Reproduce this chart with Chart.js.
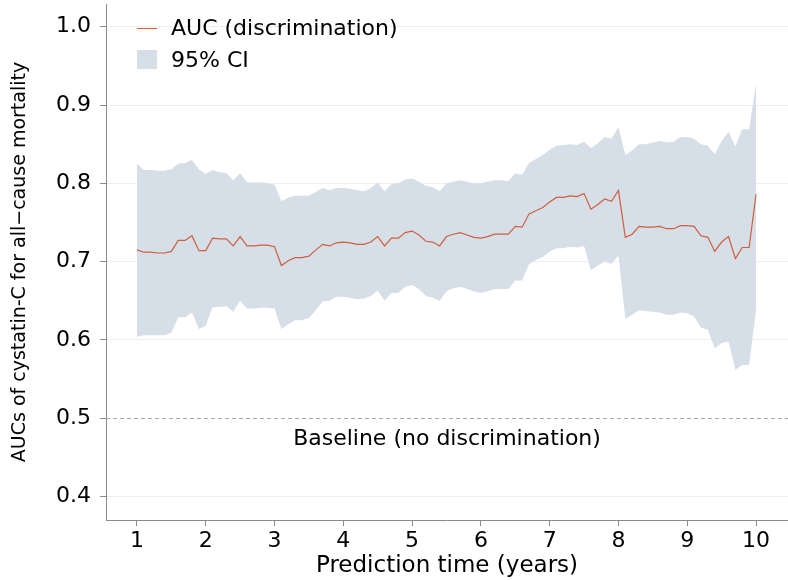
<!DOCTYPE html>
<html>
<head>
<meta charset="utf-8">
<script src="https://cdn.jsdelivr.net/npm/chart.js@4.4.1/dist/chart.umd.min.js"></script>
<style>
  html, body { margin: 0; padding: 0; background: #fff; }
</style>
</head>
<body>
<canvas id="chart" width="788" height="580"></canvas>
<script>
// Prediction time grid (years)
const years = [
  1.0, 1.1, 1.2, 1.3, 1.4, 1.5, 1.6, 1.7, 1.8, 1.9,
  2.0, 2.1, 2.2, 2.3, 2.4, 2.5, 2.6, 2.7, 2.8, 2.9,
  3.0, 3.1, 3.2, 3.3, 3.4, 3.5, 3.6, 3.7, 3.8, 3.9,
  4.0, 4.1, 4.2, 4.3, 4.4, 4.5, 4.6, 4.7, 4.8, 4.9,
  5.0, 5.1, 5.2, 5.3, 5.4, 5.5, 5.6, 5.7, 5.8, 5.9,
  6.0, 6.1, 6.2, 6.3, 6.4, 6.5, 6.6, 6.7, 6.8, 6.9,
  7.0, 7.1, 7.2, 7.3, 7.4, 7.5, 7.6, 7.7, 7.8, 7.9,
  8.0, 8.1, 8.2, 8.3, 8.4, 8.5, 8.6, 8.7, 8.8, 8.9,
  9.0, 9.1, 9.2, 9.3, 9.4, 9.5, 9.6, 9.7, 9.8, 9.9,
  10.0
];

// AUC (discrimination)
const auc = [
  0.715, 0.712, 0.712, 0.711, 0.711, 0.713, 0.727, 0.727, 0.733, 0.714,
  0.714, 0.730, 0.729, 0.729, 0.720, 0.732, 0.720, 0.720, 0.721, 0.721,
  0.719, 0.695, 0.701, 0.705, 0.705, 0.707, 0.715, 0.722, 0.720, 0.724,
  0.725, 0.724, 0.722, 0.722, 0.725, 0.732, 0.720, 0.730, 0.730, 0.737,
  0.739, 0.734, 0.726, 0.725, 0.720, 0.732, 0.735, 0.737, 0.734, 0.731,
  0.730, 0.732, 0.735, 0.735, 0.735, 0.745, 0.744, 0.761, 0.765, 0.769,
  0.776, 0.782, 0.782, 0.784, 0.783, 0.787, 0.767, 0.773, 0.780, 0.777,
  0.791, 0.731, 0.735, 0.745, 0.744, 0.744, 0.745, 0.742, 0.742, 0.746,
  0.746, 0.745, 0.733, 0.731, 0.713, 0.725, 0.732, 0.704, 0.718, 0.718,
  0.786
];

// 95% CI bounds
const ciUpper = [
  0.825, 0.817, 0.817, 0.816, 0.816, 0.818, 0.825, 0.826, 0.830, 0.818,
  0.812, 0.817, 0.814, 0.813, 0.804, 0.813, 0.801, 0.801, 0.801, 0.800,
  0.798, 0.777, 0.782, 0.784, 0.784, 0.784, 0.789, 0.794, 0.791, 0.794,
  0.794, 0.793, 0.791, 0.790, 0.794, 0.801, 0.790, 0.799, 0.800, 0.805,
  0.806, 0.802, 0.797, 0.795, 0.790, 0.800, 0.802, 0.804, 0.802, 0.800,
  0.800, 0.802, 0.804, 0.804, 0.803, 0.813, 0.811, 0.826, 0.831, 0.836,
  0.843, 0.848, 0.849, 0.850, 0.849, 0.853, 0.845, 0.851, 0.859, 0.857,
  0.872, 0.836, 0.842, 0.850, 0.850, 0.852, 0.854, 0.852, 0.853, 0.859,
  0.859, 0.857, 0.850, 0.848, 0.837, 0.854, 0.866, 0.847, 0.869, 0.869,
  0.928
];

const ciLower = [
  0.604, 0.606, 0.606, 0.606, 0.606, 0.609, 0.629, 0.629, 0.635, 0.614,
  0.618, 0.642, 0.642, 0.643, 0.636, 0.650, 0.640, 0.640, 0.641, 0.641,
  0.640, 0.614, 0.620, 0.625, 0.625, 0.628, 0.638, 0.649, 0.650, 0.655,
  0.655, 0.654, 0.652, 0.653, 0.656, 0.663, 0.650, 0.660, 0.660, 0.668,
  0.670, 0.665, 0.656, 0.654, 0.650, 0.662, 0.666, 0.668, 0.665, 0.662,
  0.660, 0.662, 0.665, 0.665, 0.665, 0.676, 0.676, 0.697, 0.702, 0.706,
  0.713, 0.717, 0.717, 0.719, 0.718, 0.720, 0.689, 0.695, 0.700, 0.697,
  0.708, 0.627, 0.632, 0.638, 0.637, 0.636, 0.635, 0.632, 0.632, 0.635,
  0.634, 0.630, 0.616, 0.613, 0.589, 0.596, 0.598, 0.562, 0.568, 0.568,
  0.638
];

const xTicks = [1, 2, 3, 4, 5, 6, 7, 8, 9, 10];
const yTicks = [0.4, 0.5, 0.6, 0.7, 0.8, 0.9, 1.0];
const baselineValue = 0.5;

const FONT = "'DejaVu Sans', 'Liberation Sans', sans-serif";
const LINE_COLOR = '#cf5f3c';
const BAND_COLOR = '#d6dee7';
const AXIS_COLOR = '#8a8a8a';

const toPoints = (values) => values.map((v, i) => ({ x: years[i], y: v }));

// Dashed reference line, its label and the in-plot legend
const annotations = {
  id: 'annotations',
  beforeDatasetsDraw(chart) {
    const { ctx, chartArea, scales } = chart;
    const y = scales.y.getPixelForValue(baselineValue);
    ctx.save();
    ctx.strokeStyle = '#a8a8a8';
    ctx.lineWidth = 1;
    ctx.setLineDash([4, 3]);
    ctx.beginPath();
    ctx.moveTo(chartArea.left, Math.round(y) + 0.5);
    ctx.lineTo(chartArea.right, Math.round(y) + 0.5);
    ctx.stroke();
    ctx.restore();
  },
  afterDraw(chart) {
    const { ctx, chartArea, scales } = chart;
    const y = scales.y.getPixelForValue(baselineValue);
    ctx.save();
    ctx.fillStyle = '#000';
    ctx.font = `22px ${FONT}`;
    ctx.textAlign = 'center';
    ctx.textBaseline = 'middle';
    ctx.fillText('Baseline (no discrimination)', (chartArea.left + chartArea.right) / 2, y + 21);

    // legend
    const lx = chartArea.left + 31;
    const ly = chartArea.top + 24;
    ctx.strokeStyle = LINE_COLOR;
    ctx.lineWidth = 1;
    ctx.beginPath();
    ctx.moveTo(lx, ly + 0.5);
    ctx.lineTo(lx + 20, ly + 0.5);
    ctx.stroke();
    ctx.fillStyle = BAND_COLOR;
    ctx.fillRect(lx, ly + 22, 20, 19);
    ctx.fillStyle = '#000';
    ctx.textAlign = 'left';
    ctx.fillText('AUC (discrimination)', lx + 34, ly + 1);
    ctx.fillText('95% CI', lx + 34, ly + 33);
    ctx.restore();
  }
};

new Chart(document.getElementById('chart'), {
  type: 'line',
  data: {
    datasets: [
      {
        label: '95% CI',
        data: toPoints(ciUpper),
        borderWidth: 0,
        backgroundColor: BAND_COLOR,
        pointRadius: 0,
        fill: '+1',
        tension: 0,
        order: 2
      },
      {
        label: 'lower',
        data: toPoints(ciLower),
        borderWidth: 0,
        pointRadius: 0,
        fill: false,
        tension: 0,
        order: 3
      },
      {
        label: 'AUC (discrimination)',
        data: toPoints(auc),
        borderColor: LINE_COLOR,
        borderWidth: 1.2,
        pointRadius: 0,
        fill: false,
        tension: 0,
        order: 1
      }
    ]
  },
  options: {
    responsive: false,
    animation: false,
    layout: { padding: { top: 4, right: 0, left: 0, bottom: 0 } },
    plugins: {
      legend: { display: false },
      tooltip: { enabled: false }
    },
    scales: {
      x: {
        type: 'linear',
        min: 0.55,
        max: 10.465,
        afterBuildTicks: (scale) => { scale.ticks = xTicks.map(v => ({ value: v })); },
        afterFit: (scale) => {
          scale.height = 60;
          scale.paddingLeft = 0;
          scale.paddingRight = 0;
        },
        border: { color: AXIS_COLOR, width: 1 },
        grid: {
          drawOnChartArea: false,
          tickLength: 6,
          tickColor: AXIS_COLOR
        },
        ticks: {
          color: '#000',
          padding: 2,
          maxRotation: 0,
          font: { family: FONT, size: 22 }
        },
        title: {
          display: true,
          text: 'Prediction time (years)',
          color: '#000',
          padding: { top: 0, bottom: 0 },
          font: { family: FONT, size: 23 }
        }
      },
      y: {
        min: 0.370,
        max: 1.029,
        afterBuildTicks: (scale) => { scale.ticks = yTicks.map(v => ({ value: v })); },
        afterFit: (scale) => {
          scale.width = 106;
          scale.paddingTop = 0;
          scale.paddingBottom = 0;
        },
        border: { color: AXIS_COLOR, width: 1 },
        grid: {
          color: (ctx) => (ctx.tick && ctx.tick.value === baselineValue ? 'rgba(0,0,0,0)' : '#eeeeee'),
          tickLength: 6,
          tickColor: AXIS_COLOR
        },
        ticks: {
          color: '#000',
          padding: 9,
          font: { family: FONT, size: 22 },
          callback: (v) => Number(v).toFixed(1)
        },
        title: {
          display: true,
          text: 'AUCs of cystatin-C for all\u2212cause mortality',
          color: '#000',
          padding: { top: 9, bottom: 0 },
          font: { family: FONT, size: 19 }
        }
      }
    }
  },
  plugins: [annotations]
});
</script>
</body>
</html>
